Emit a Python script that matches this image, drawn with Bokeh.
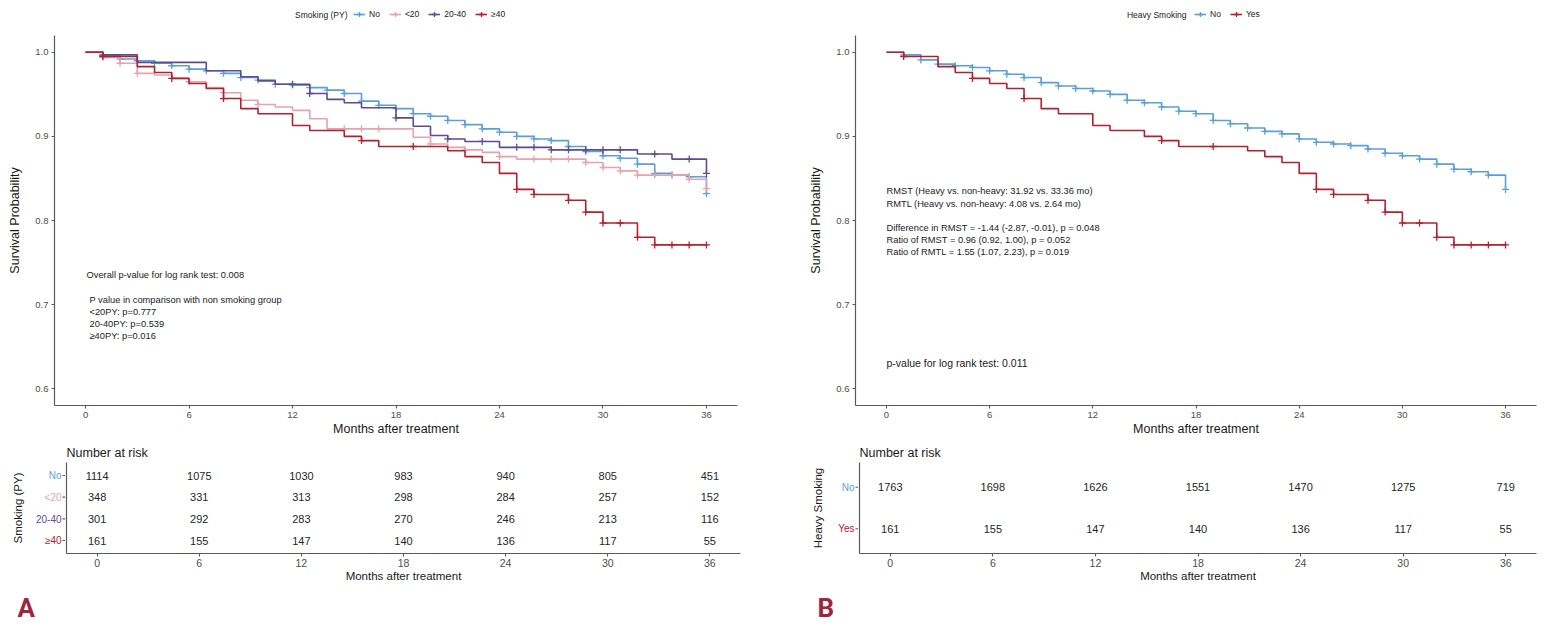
from bokeh.plotting import figure
from bokeh.models import FixedTicker, Label, Legend, LegendItem, Range1d, PrintfTickFormatter
from bokeh.layouts import row, column
from bokeh.embed import file_html
from bokeh.resources import INLINE
from bokeh.core.properties import value

FONT = "Liberation Sans"
C_NO = "#5B9FD6"
C_LT20 = "#E8A2AC"
C_2040 = "#5F4B8E"
C_GE40 = "#B5202E"
C_TEXT = "#1a1a1a"
C_TICK = "#4D4D4D"
C_AXIS = "#5a5a5a"
C_PANEL = "#9C2744"

# ---------------- data ----------------
month_ticks = [0, 6, 12, 18, 24, 30, 36]
surv_ticks = [0.6, 0.7, 0.8, 0.9, 1.0]

# Panel A : Smoking (PY) groups -- step months and survival after each step
no_months = list(range(0, 37))
no_surv = [1.000, 0.996, 0.992, 0.990, 0.987, 0.984, 0.980, 0.978, 0.975, 0.970,
           0.967, 0.962, 0.961, 0.958, 0.955, 0.951, 0.942, 0.937, 0.933, 0.927,
           0.924, 0.919, 0.914, 0.909, 0.905, 0.900, 0.897, 0.895, 0.888, 0.882,
           0.877, 0.874, 0.867, 0.856, 0.854, 0.852, 0.832]
no_censor = list(range(1, 37))

lt20_months = [0, 1, 2, 3, 4, 5, 6, 7, 8, 9, 10, 11, 12, 13, 14, 19, 20, 21, 22, 23,
               24, 25, 29, 30, 31, 32, 35, 36]
lt20_surv = [1.000, 0.994, 0.987, 0.975, 0.973, 0.969, 0.965, 0.958, 0.952, 0.943,
             0.938, 0.935, 0.931, 0.921, 0.909, 0.899, 0.891, 0.887, 0.884, 0.881,
             0.876, 0.873, 0.869, 0.863, 0.859, 0.854, 0.849, 0.838]
lt20_censor = [1, 2, 3, 6, 8, 10, 15, 16, 17, 20, 22, 24, 26, 27, 28, 29, 30, 31, 32,
               33, 34, 35, 36]

m2040_months = [0, 1, 3, 7, 9, 10, 11, 13, 14, 15, 16, 18, 19, 20, 21, 22, 24, 27, 32,
                34, 36]
m2040_surv = [1.000, 0.997, 0.988, 0.978, 0.971, 0.966, 0.962, 0.951, 0.944, 0.940,
              0.934, 0.922, 0.912, 0.901, 0.897, 0.894, 0.887, 0.884, 0.879, 0.873,
              0.856]
m2040_censor = [1, 12, 13, 18, 21, 23, 25, 26, 27, 28, 29, 30, 31, 33, 35, 36]

ge40_months = [0, 1, 3, 4, 5, 6, 7, 8, 9, 10, 12, 13, 15, 16, 17, 21, 22, 23, 24, 25,
               26, 28, 29, 30, 32, 33, 36]
ge40_surv = [1.000, 0.995, 0.983, 0.976, 0.969, 0.963, 0.957, 0.945, 0.933, 0.927,
             0.913, 0.907, 0.900, 0.895, 0.888, 0.883, 0.876, 0.869, 0.856, 0.837,
             0.831, 0.824, 0.810, 0.797, 0.780, 0.771, 0.771]
ge40_censor = [1, 5, 8, 16, 19, 25, 26, 28, 29, 30, 31, 32, 33, 34, 35, 36]

# Panel B : Heavy smoking
hno_months = list(range(0, 37))
hno_surv = [1.000, 0.997, 0.991, 0.986, 0.984, 0.982, 0.978, 0.974, 0.970, 0.964,
            0.960, 0.957, 0.954, 0.950, 0.943, 0.940, 0.935, 0.930, 0.927, 0.919,
            0.915, 0.910, 0.906, 0.903, 0.897, 0.893, 0.891, 0.889, 0.885, 0.880,
            0.877, 0.873, 0.867, 0.861, 0.858, 0.854, 0.837]
hno_censor = list(range(1, 37))
hyes_months = ge40_months
hyes_surv = ge40_surv
hyes_censor = ge40_censor

# Numbers at risk
risk_no = [1114, 1075, 1030, 983, 940, 805, 451]
risk_lt20 = [348, 331, 313, 298, 284, 257, 152]
risk_2040 = [301, 292, 283, 270, 246, 213, 116]
risk_ge40 = [161, 155, 147, 140, 136, 117, 55]
risk_hno = [1763, 1698, 1626, 1551, 1470, 1275, 719]
risk_hyes = [161, 155, 147, 140, 136, 117, 55]

groups_a = ["No", "<20", "20-40", "≥40"]
groups_b = ["No", "Yes"]

notes_a = ["Overall p-value for log rank test: 0.008",
           "P value in comparison with non smoking group",
           "<20PY: p=0.777", "20-40PY: p=0.539", "≥40PY: p=0.016"]
notes_b = ["RMST (Heavy vs. non-heavy: 31.92 vs. 33.36 mo)",
           "RMTL (Heavy vs. non-heavy: 4.08 vs. 2.64 mo)",
           "Difference in RMST = -1.44 (-2.87, -0.01), p = 0.048",
           "Ratio of RMST = 0.96 (0.92, 1.00), p = 0.052",
           "Ratio of RMTL = 1.55 (1.07, 2.23), p = 0.019"]
pval_b = "p-value for log rank test: 0.011"


def surv_at(months, surv, t):
    s = surv[0]
    for m, v in zip(months, surv):
        if m <= t:
            s = v
    return s


def bare(p):
    p.axis.visible = False
    p.grid.visible = False
    p.outline_line_color = None
    p.title.visible = False


def style_axes(p, tick_fs, label_fs, ylab_standoff, xlab_standoff):
    for ax in (p.xaxis[0], p.yaxis[0]):
        ax.axis_line_color = C_AXIS
        ax.axis_line_width = 1.2
        ax.major_tick_line_color = C_AXIS
        ax.major_tick_line_width = 1.1
        ax.major_tick_out = 3
        ax.major_tick_in = 0
        ax.minor_tick_line_color = None
        ax.major_label_text_font = FONT
        ax.major_label_text_font_size = tick_fs
        ax.major_label_text_color = C_TICK
        ax.major_label_standoff = 3
        ax.axis_label_text_font = FONT
        ax.axis_label_text_font_size = label_fs
        ax.axis_label_text_font_style = "normal"
        ax.axis_label_text_color = C_TEXT
    p.xaxis[0].axis_label_standoff = xlab_standoff
    p.yaxis[0].axis_label_standoff = ylab_standoff
    p.xaxis[0].ticker = FixedTicker(ticks=month_ticks)
    p.grid.visible = False
    p.outline_line_color = None


def label(p, x, y, text, size="9.3px", align="left", color=C_TEXT, style="normal",
          font=FONT):
    p.add_layout(Label(x=x, y=y, x_units="screen", y_units="screen", text=text,
                       text_font=font, text_font_size=size, text_align=align,
                       text_baseline="middle", text_color=color, text_font_style=style))


def surv_fig(bl, fw, br):
    p = figure(frame_width=fw, frame_height=370, min_border_left=bl, min_border_right=br,
               min_border_top=0, min_border_bottom=35,
               x_range=Range1d(-1.8, 37.8), y_range=Range1d(0.58, 1.02),
               output_backend="svg", toolbar_location=None)
    p.title.visible = False
    style_axes(p, "9.5px", "12.5px", 10, 1)
    p.yaxis[0].ticker = FixedTicker(ticks=surv_ticks)
    p.yaxis[0].formatter = PrintfTickFormatter(format="%.1f")
    p.xaxis[0].axis_label = "Months after treatment"
    p.yaxis[0].axis_label = "Survival Probability"
    return p


def add_curve(p, months, surv, censor, color):
    xs = list(months)
    ys = list(surv)
    if xs[-1] < 36:
        xs.append(36)
        ys.append(ys[-1])
    p.step(xs, ys, mode="after", line_color=color, line_width=1.6)
    cy = [surv_at(months, surv, t) for t in censor]
    p.scatter(censor, cy, marker="cross", size=7, line_color=color, line_width=1.3)


def legend_strip(width, title, names, colors, x_title, x_items):
    p = figure(width=width, height=35, min_border=0, x_range=Range1d(0, 1),
               y_range=Range1d(0, 1), output_backend="svg", toolbar_location=None)
    bare(p)
    items = []
    for n, c in zip(names, colors):
        # key glyphs only (kept outside the visible range of this strip)
        lr = p.line(x=[-5, -4], y=[-5, -5], line_color=c, line_width=1.6)
        sr = p.scatter(x=[-5], y=[-5], marker="cross", size=7, line_color=c,
                       line_width=1.3)
        items.append(LegendItem(label=n, renderers=[lr, sr]))
    lg = Legend(items=items, location=(x_items, 13), orientation="horizontal",
                label_text_font=FONT, label_text_font_size="8.5px", label_text_color=C_TEXT,
                glyph_width=12, glyph_height=16, label_height=16, label_width=0,
                label_standoff=4, spacing=9, padding=0, margin=0,
                border_line_color=None, background_fill_alpha=0)
    p.add_layout(lg)
    label(p, x_title, 21, title, size="8.5px", align="right")
    return p


def risk_label_fig(bl, fw, y_range, groups, colors, ylab):
    p = figure(frame_width=fw, frame_height=91, min_border_left=bl, min_border_right=0,
               min_border_top=22, min_border_bottom=37, x_range=Range1d(0, fw),
               y_range=y_range, output_backend="svg", toolbar_location=None)
    p.title.visible = False
    p.xaxis.visible = False
    ax = p.yaxis[0]
    ax.ticker = FixedTicker(ticks=[])
    ax.axis_line_color = None
    ax.major_tick_line_color = None
    ax.minor_tick_line_color = None
    ax.major_tick_out = 0
    ax.major_label_standoff = 0
    ax.axis_label = ylab
    ax.axis_label_standoff = 1
    ax.axis_label_text_font = FONT
    ax.axis_label_text_font_size = "11.5px"
    ax.axis_label_text_font_style = "normal"
    ax.axis_label_text_color = C_TEXT
    p.grid.visible = False
    p.outline_line_color = None
    n = len(groups)
    rows = [n - i for i in range(n)]
    p.text(x=[fw - 4] * n, y=rows, text=groups, text_color=colors,
           text_font=value(FONT), text_font_size="10px", text_align="right",
           text_baseline="middle")
    # tick marks of the table's category axis
    p.segment(x0=[fw - 3] * n, x1=[fw + 1] * n, y0=rows, y1=rows,
              line_color=C_AXIS, line_width=1.1)
    return p


def risk_fig(fw, br, groups, counts_list):
    n = len(groups)
    p = figure(frame_width=fw, frame_height=91, min_border_left=1, min_border_right=br,
               min_border_top=22, min_border_bottom=37,
               x_range=Range1d(-1.8, 37.8), y_range=Range1d(0.4, n + 0.6),
               output_backend="svg", toolbar_location=None)
    style_axes(p, "10.5px", "11.5px", 0, 0)
    p.xaxis[0].major_label_standoff = 2
    p.xaxis[0].axis_label = "Months after treatment"
    p.title.text = "Number at risk"
    p.title.text_font = FONT
    p.title.text_font_size = "12.5px"
    p.title.text_font_style = "normal"
    p.title.text_color = C_TEXT
    p.title.align = "left"
    p.title.standoff = 5
    rows = [n - i for i in range(n)]
    ax = p.yaxis[0]
    ax.ticker = FixedTicker(ticks=[])
    ax.major_tick_out = 0
    ax.major_label_standoff = 0
    for r, counts in zip(rows, counts_list):
        p.text(x=month_ticks, y=[r] * len(month_ticks), text=[str(c) for c in counts],
               text_font=value(FONT), text_font_size="11px", text_align="center",
               text_baseline="middle", text_color="#262626")
    return p


def panel_strip(width, letter, x):
    p = figure(width=width, height=36, min_border=0, x_range=Range1d(0, 1),
               y_range=Range1d(0, 1), output_backend="svg", toolbar_location=None)
    bare(p)
    label(p, x, 19, letter, size="26px", color=C_PANEL, style="bold", font="Roboto")
    return p


# ---------------- Panel A ----------------
leg_a = legend_strip(798, "Smoking (PY)", groups_a, [C_NO, C_LT20, C_2040, C_GE40], 347, 353)
pa = surv_fig(54, 683, 61)
add_curve(pa, no_months, no_surv, no_censor, C_NO)
add_curve(pa, lt20_months, lt20_surv, lt20_censor, C_LT20)
add_curve(pa, m2040_months, m2040_surv, m2040_censor, C_2040)
add_curve(pa, ge40_months, ge40_surv, ge40_censor, C_GE40)
label(pa, 32, 131, notes_a[0])
for i, t in enumerate(notes_a[1:]):
    label(pa, 35, 106 - 12.3 * i, t)

ra = risk_fig(674, 58, groups_a, [risk_no, risk_lt20, risk_2040, risk_ge40])
la = risk_label_fig(24, 41, ra.y_range, groups_a, [C_NO, C_LT20, C_2040, C_GE40],
                    "Smoking (PY)")
sa = panel_strip(798, "A", 17)

# ---------------- Panel B ----------------
leg_b = legend_strip(746, "Heavy Smoking", groups_b, [C_NO, C_GE40], 388, 396)
pb = surv_fig(57, 681, 8)
add_curve(pb, hno_months, hno_surv, hno_censor, C_NO)
add_curve(pb, hyes_months, hyes_surv, hyes_censor, C_GE40)
for i, t in enumerate(notes_b[:2]):
    label(pb, 31, 215 - 13 * i, t)
for i, t in enumerate(notes_b[2:]):
    label(pb, 31, 178 - 12 * i, t)
label(pb, 31, 43, pval_b, size="10.5px")

rb = risk_fig(677, 8, groups_b, [risk_hno, risk_hyes])
lb = risk_label_fig(26, 34, rb.y_range, groups_b, [C_NO, C_GE40], "Heavy Smoking")
sb = panel_strip(746, "B", 19)

layout = row(column(row(leg_a), pa, row(la, ra), row(sa)),
             column(row(leg_b), pb, row(lb, rb), row(sb)))
open("out.html", "w").write(file_html(layout, INLINE))
